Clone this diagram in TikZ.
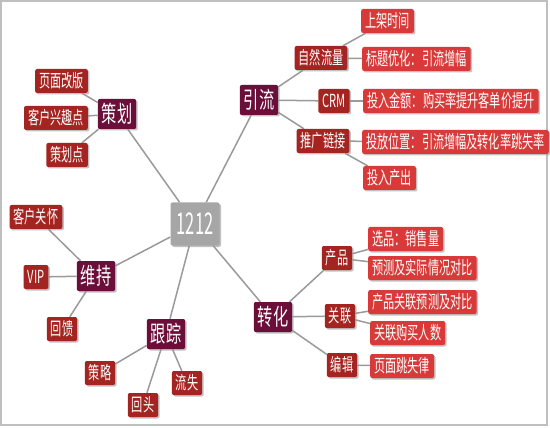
\documentclass[tikz,border=0pt]{standalone}
\usepackage{fontspec}
\newfontfamily\hubfont[FakeStretch=0.55]{Noto Sans CJK SC}
\newfontfamily\topicfont[FakeStretch=0.66]{Noto Sans CJK SC}
\newfontfamily\leaffont[FakeStretch=0.62]{Noto Sans CJK SC}
\usetikzlibrary{shadows, backgrounds}

\definecolor{topicpurple}{HTML}{6B0F3A}
\definecolor{subred}{HTML}{A32420}
\definecolor{leafred}{HTML}{D83A3A}
\definecolor{hubgray}{HTML}{A6A6A6}
\definecolor{linkgray}{HTML}{9A9A9A}

\tikzset{
  box/.style={rounded corners=2pt, text=white, inner xsep=4pt, inner ysep=0pt,
    drop shadow={shadow xshift=1.5pt, shadow yshift=-1.5pt, fill=black!40, opacity=0.6}},
  hub/.style={box, fill=hubgray, minimum width=49pt, minimum height=43pt, font=\hubfont\fontsize{30}{30}\selectfont},
  topic/.style={box, fill=topicpurple, minimum height=30pt, font=\topicfont\fontsize{23}{23}\selectfont},
  sub/.style={box, fill=subred, minimum height=24pt, font=\leaffont\fontsize{18}{18}\selectfont},
  leaf/.style={sub, fill=leafred},
  link/.style={draw=linkgray, line width=1.5pt},
}

\begin{document}
\begin{tikzpicture}[x=1pt, y=-1pt]
  \useasboundingbox (0,0) rectangle (550,428);

  % centre
  \node[hub] (hub) at (195,224) {1212};

  % 策划
  \node[topic] (cehua) at (117,114) {策划};
  \node[sub, anchor=east] (yemian) at (88,81) {页面改版};
  \node[sub, anchor=east] (xingqu) at (88,118) {客户兴趣点};
  \node[sub, anchor=east] (cehuadian) at (88,155) {策划点};

  % 引流
  \node[topic] (yinliu) at (259,100) {引流};
  \node[sub] (ziran) at (321,58) {自然流量};
  \node[sub] (crm) at (334,101) {CRM};
  \node[sub] (tuiguang) at (323,141) {推广链接};
  \node[leaf, anchor=west] (shangjia) at (361,21) {上架时间};
  \node[leaf, anchor=west] (biaoti) at (362,59) {标题优化：引流增幅};
  \node[leaf, anchor=west] (jine) at (363,101) {投入金额：购买率提升客单价提升};
  \node[leaf, anchor=west] (weizhi) at (362,142) {投放位置：引流增幅及转化率跳失率};
  \node[leaf, anchor=west] (chanchu) at (363,178) {投入产出};

  % 维持
  \node[topic] (weichi) at (96,276) {维持};
  \node[sub] (guanhuai) at (36,217) {客户关怀};
  \node[sub] (vip) at (36,277) {VIP};
  \node[sub] (huikui) at (62,329) {回馈};

  % 跟踪
  \node[topic] (genzong) at (166,334) {跟踪};
  \node[sub] (celue) at (100,373) {策略};
  \node[sub] (huitou) at (143,405) {回头};
  \node[sub] (liushi) at (187,383) {流失};

  % 转化
  \node[topic] (zhuanhua) at (273,317) {转化};
  \node[sub] (chanpin) at (337,258) {产品};
  \node[sub] (guanlian) at (340,316) {关联};
  \node[sub] (bianji) at (342,365) {编辑};
  \node[leaf, anchor=west] (xuanpin) at (368,239) {选品：销售量};
  \node[leaf, anchor=west] (yuce) at (368,268) {预测及实际情况对比};
  \node[leaf, anchor=west] (glyuce) at (368,302) {产品关联预测及对比};
  \node[leaf, anchor=west] (goumai) at (370,333) {关联购买人数};
  \node[leaf, anchor=west] (tiaoshi) at (370,366) {页面跳失律};

  \begin{scope}[on background layer]
    \fill[white] (0,0) rectangle (550,428);
    \draw[gray!50, line width=1.5pt] (1,1) rectangle (547,425);
    \foreach \a/\b in {hub/cehua, hub/yinliu, hub/weichi, hub/genzong, hub/zhuanhua,
        cehua/yemian, cehua/xingqu, cehua/cehuadian,
        yinliu/ziran, yinliu/crm, yinliu/tuiguang,
        ziran/shangjia, ziran/biaoti, crm/jine, tuiguang/weizhi, tuiguang/chanchu,
        weichi/guanhuai, weichi/vip, weichi/huikui,
        genzong/celue, genzong/huitou, genzong/liushi,
        zhuanhua/chanpin, zhuanhua/guanlian, zhuanhua/bianji,
        chanpin/xuanpin, chanpin/yuce, guanlian/glyuce, guanlian/goumai, bianji/tiaoshi} {
      \draw[link] (\a) -- (\b);
    }
  \end{scope}
\end{tikzpicture}
\end{document}
